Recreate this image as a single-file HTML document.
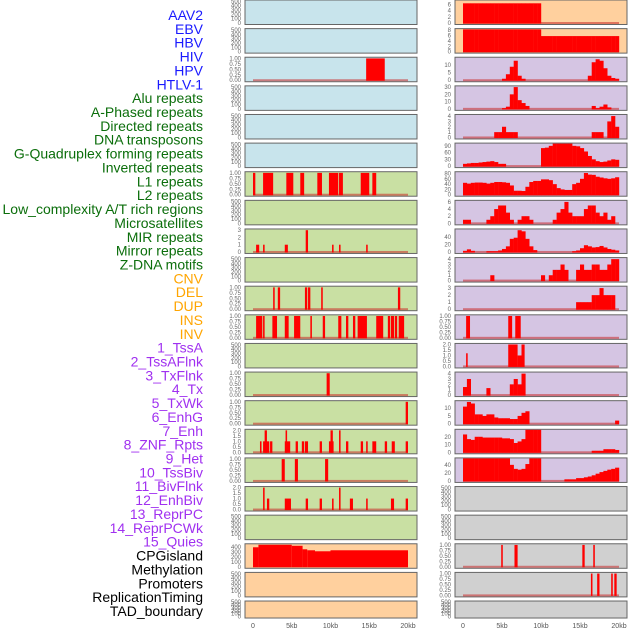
<!DOCTYPE html>
<html><head><meta charset="utf-8"><style>
html,body{margin:0;padding:0;background:#fff;}
svg{display:block;font-family:"Liberation Sans",sans-serif;}
</style></head><body>
<svg id="chart" width="630" height="630" viewBox="0 0 630 630" xmlns="http://www.w3.org/2000/svg">
<g id="labels" font-size="14" text-anchor="end"></g>
<g id="panels"></g>
<g id="xaxes" font-size="7" fill="#555" text-anchor="middle"></g>
</svg>
<script>
const NS='http://www.w3.org/2000/svg';
// ---- labels ----
const labelNames=['AAV2','EBV','HBV','HIV','HPV','HTLV-1','Alu repeats','A-Phased repeats','Directed repeats','DNA transposons','G-Quadruplex forming repeats','Inverted repeats','L1 repeats','L2 repeats','Low_complexity A/T rich regions','Microsatellites','MIR repeats','Mirror repeats','Z-DNA motifs','CNV','DEL','DUP','INS','INV','1_TssA','2_TssAFlnk','3_TxFlnk','4_Tx','5_TxWk','6_EnhG','7_Enh','8_ZNF_Rpts','9_Het','10_TssBiv','11_BivFlnk','12_EnhBiv','13_ReprPC','14_ReprPCWk','15_Quies','CPGisland','Methylation','Promoters','ReplicationTiming','TAD_boundary'];
const labelGroups=[6,13,5,15,5];
const groupColors=['#1a1aff','#0b6e0b','#ffa500','#a030f0','#000000'];

// ---- tick label sets ----
const t500=['0','100','200','300','400','500'];
const t1=['0.00','0.25','0.50','0.75','1.00'];
const t2=['0.0','0.5','1.0','1.5','2.0'];
const t3=['0','1','2','3'];
const t4=['0','1','2','3','4'];
const t6=['0','2','4','6'];
const t8=['0','2','4','6','8'];
const t10=['0','5','10'];
const t20=['0','10','20'];
const t30=['0','10','20','30'];
const t40=['0','20','40'];
const t80=['0','20','40','60','80'];
const t90=['0','30','60','90'];
const t400=['0','100','200','300','400'];

// ---- left column data (spans: [startKb, endKb, value]) ----
const hivSpans=[[14.6,17.0,1]];
const l7Spans=[[0,0.3,1],[1.3,2.6,1],[4.3,5.2,1],[6.1,6.6,1],[8.3,8.9,1],[9.8,11.0,1],[11.1,11.6,1],[13.9,15.0,1],[15.4,15.9,1]];
const l9Spans=[[0.4,0.8,1],[1.3,1.5,1],[4.1,4.5,1],[6.8,7.1,3],[10.2,10.4,1],[11.1,11.3,1],[14.6,14.8,1]];
const l11Spans=[[2.6,2.8,1],[3.2,3.5,1],[6.7,7.0,1],[7.1,7.4,1],[8.8,9.0,1],[18.7,19.0,1]];
const l12Spans=[[0.4,1.2,1],[1.3,1.5,1],[2.5,3.1,1],[4.1,4.6,1],[5.3,6.1,1],[7.4,7.6,1],[9.0,9.3,1],[11.0,11.4,1],[12.0,12.3,1],[12.9,13.2,1],[13.5,14.7,1],[15.9,16.8,1],[17.4,17.7,1],[17.8,18.2,1],[18.3,18.6,1],[18.8,19.5,1]];
const l14Spans=[[9.5,9.9,1]];
const l15Spans=[[19.7,20.0,1]];
const l16Spans=[[0.9,1.1,1],[1.3,2.1,1],[1.5,1.8,2],[2.2,2.5,1],[4.1,4.8,1],[4.2,4.4,2],[5.5,5.8,1],[6.3,6.6,1],[6.7,7.1,1],[8.6,8.9,1],[9.8,10.4,1],[10.0,10.3,2],[11.1,11.3,2],[12.0,12.3,1],[13.9,14.2,1],[14.6,14.8,1],[15.4,15.9,1],[17.0,17.3,1],[17.9,18.3,1],[19.7,20.0,1]];
const l17Spans=[[3.7,4.1,1],[5.4,5.8,1],[9.3,9.7,1]];
const l18Spans=[[1.3,1.5,2],[1.8,2.1,1],[4.1,4.9,1],[6.8,7.1,1],[8.6,8.9,1],[10.2,10.4,1],[11.1,11.3,2],[12.5,12.9,1],[14.6,14.8,1],[17.8,18.2,1],[19.7,20.0,1]];
const cpgSpans=[[0,0.7,390],[0.7,5.0,440],[5.0,6.4,420],[6.4,7.0,350],[7.0,8.0,330],[8.0,10.0,310],[10.0,20.0,330]];

// ---- right column data (40 bins of 0.5kb) ----
function z(n){return new Array(n).fill(0);}
const r1Bins=[6.3,6.3,6.3,6.3,6.3,6.3,6.3,6.3,6.3,6.3,6.3,6.3,6.3,6.3,6.3,6.3,6.3,6.3,6.3,6.3, ...z(20)];
const r2Bins=[8.3,8.3,8.3,8.3,8.3,8.3,8.3,8.3,8.3,8.3,8.3,8.3,8.3,8.3,8.3,8.3,8.3,8.3,8.3,8.3, 5.8,5.8,5.8,5.8,5.8,5.8,5.8,5.8,5.8,5.8,5.8,5.8,5.8,5.8,5.8,5.8,5.8,5.8,5.8,5.8];
const r3Bins=[0,0,0,0,0,0,0,0,0,0, 1,4,9,13,3,1,0,0,0,0, 0,0,0,0,0,0,0,0,0,0, 0,0,3,12,14,13,8,3,1.5,1];
const r4Bins=[0,0,0,0,0,0,0,0,0,0, 1,3,20,30,12,8,4,0,0,0, 0,0,0,0,0,0,0,0,0,0, 0,0,0,4,1,3,6,2,0,0];
const r5Bins=[0,0,0,0,0,0,0,0,1,1, 2,1,1,1,0,0,0,0,0,0, 0,0,0,0,0,0,0,0,0,0, 0,0,0,1,1,1,0,3,4,2];
const r6Bins=[10,12,14,14,16,18,20,22,18,10, 10,0,0,0,0,0,0,0,0,0, 80,82,90,100,100,100,100,100,90,88, 80,65,45,30,22,18,20,25,30,28];
const r7Bins=[45,42,45,46,46,45,42,45,48,48, 47,45,35,15,15,14,30,48,52,52, 58,58,55,40,25,20,18,18,40,45, 60,82,76,75,68,65,62,60,62,66];
const r8Bins=[1,1,0,0,0,0,1,2,4,5, 5,3,1,0,1,2,2,1,0,0, 0,0,0,1,3,4,6,3,2,2, 2,4,5,5,3,2,3,1,2,0];
const r9Bins=[3,7,3,0,0,0,2,2,2,4, 8,15,35,38,58,55,35,15,5,0, 0,0,0,0,0,0,0,0,2,4, 10,18,15,12,13,16,12,8,6,4];
const r10Bins=[0,0,0,0,0,0,0,1,0,0, 0,0,0,0,0,0,0,0,0,0, 1,0,1,2,2,3,2,0,0,2, 3,2,2,3,3,2,2,3,4,4];
const r11Bins=[...z(29),1,1,1,1,2,2,3,2,2,2,0];
const r12Spans=[[0.4,0.9,1],[5.8,6.3,1],[6.7,7.4,1]];
const r13Spans=[[0.4,0.6,1.2],[5.8,7.0,2],[7.0,7.5,1],[7.5,7.9,2]];
const r14Bins=[1.5,3,0,0,0,0,1.3,0,0,0, 0,0,2,3,2,4,...z(24)];
const r15Bins=[11,14,13,6,6,5,6,6,4,3.5, 3.5,3.5,3,3,5,7,8,0,0,0, ...z(19),2];
const r16Bins=[23,17,16,20,20,19,19,19,19,19, 18,18,17,12,14,17,29,29,29,29, 0,0,0,0,0,0,0,0,0,0, 0,0,0,2,2,2,4,4,4,3];
const r17Bins=[56,56,56,56,56,56,56,56,56,56, 56,56,40,30,28,30,42,56,56,56, 0,0,0,0,0,0,4,4,4,7, 7,9,11,14,18,22,25,28,30,33];
const r20Spans=[[4.9,5.1,1],[6.6,7.0,1],[15.3,15.6,1],[16.7,16.9,1]];
const r21Spans=[[16.4,16.6,1],[17.2,17.5,1],[19.0,19.2,1],[19.4,19.7,1]];

const BLUE='#c8e4ec',GREEN='#c9e0a3',PEACH='#ffd09e',PURPLE='#d5c5e3',GRAY='#d0d0d0';
const leftPanels=[
 {bg:BLUE,ticks:t500,ymax:520},{bg:BLUE,ticks:t500,ymax:520},{bg:BLUE,ticks:t1,ymax:1.03,spans:hivSpans},
 {bg:BLUE,ticks:t500,ymax:520},{bg:BLUE,ticks:t500,ymax:520},{bg:BLUE,ticks:t500,ymax:520},
 {bg:GREEN,ticks:t1,ymax:1.03,spans:l7Spans},{bg:GREEN,ticks:t500,ymax:520},{bg:GREEN,ticks:t3,ymax:3.1,spans:l9Spans},
 {bg:GREEN,ticks:t500,ymax:520},{bg:GREEN,ticks:t1,ymax:1.03,spans:l11Spans},{bg:GREEN,ticks:t1,ymax:1.03,spans:l12Spans},
 {bg:GREEN,ticks:t500,ymax:520},{bg:GREEN,ticks:t1,ymax:1.03,spans:l14Spans},{bg:GREEN,ticks:t1,ymax:1.03,spans:l15Spans},
 {bg:GREEN,ticks:t2,ymax:2.05,spans:l16Spans},{bg:GREEN,ticks:t1,ymax:1.03,spans:l17Spans},{bg:GREEN,ticks:t2,ymax:2.05,spans:l18Spans},
 {bg:GREEN,ticks:t500,ymax:520},{bg:PEACH,ticks:t400,ymax:450,spans:cpgSpans,nobase:true},{bg:PEACH,ticks:t500,ymax:520},{bg:PEACH,ticks:t500,ymax:520}
];
const rightPanels=[
 {bg:PEACH,ticks:t6,ymax:7.2,bins:r1Bins},{bg:PEACH,ticks:t8,ymax:8.4,bins:r2Bins},{bg:PURPLE,ticks:t10,ymax:15,bins:r3Bins},
 {bg:PURPLE,ticks:t30,ymax:31,bins:r4Bins},{bg:PURPLE,ticks:t4,ymax:4.2,bins:r5Bins},{bg:PURPLE,ticks:t90,ymax:100,bins:r6Bins},
 {bg:PURPLE,ticks:t80,ymax:85,bins:r7Bins},{bg:PURPLE,ticks:t6,ymax:6.3,bins:r8Bins},{bg:PURPLE,ticks:t40,ymax:60,bins:r9Bins},
 {bg:PURPLE,ticks:t4,ymax:4.2,bins:r10Bins},{bg:PURPLE,ticks:t3,ymax:3.2,bins:r11Bins},{bg:PURPLE,ticks:t1,ymax:1.03,spans:r12Spans},
 {bg:PURPLE,ticks:t2,ymax:2.05,spans:r13Spans},{bg:PURPLE,ticks:t4,ymax:4.2,bins:r14Bins},{bg:PURPLE,ticks:t10,ymax:14.5,bins:r15Bins},
 {bg:PURPLE,ticks:t20,ymax:29,bins:r16Bins},{bg:PURPLE,ticks:t40,ymax:56,bins:r17Bins},{bg:GRAY,ticks:t500,ymax:520},
 {bg:GRAY,ticks:t500,ymax:520},{bg:GRAY,ticks:t1,ymax:1.03,spans:r20Spans},{bg:GRAY,ticks:t1,ymax:1.03,spans:r21Spans},{bg:GRAY,ticks:t500,ymax:520}
];
const xTickLabels=['0','5kb','10kb','15kb','20kb'];
const xTickValues=[0,5,10,15,20];

function el(tag,attrs,parent){const e=document.createElementNS(NS,tag);for(const k in attrs)e.setAttribute(k,attrs[k]);parent.appendChild(e);return e;}

// labels
const lg=document.getElementById('labels');
let idx=0;
labelGroups.forEach((n,g)=>{for(let i=0;i<n;i++){
  const t=el('text',{x:203,y:(15+idx*13.86+5).toFixed(1),fill:groupColors[g]},lg);
  
  
  t.textContent=labelNames[idx];idx++;}});

const pg=document.getElementById('panels');
const cols=[{x0:245,x1:417,xs:kb=>253+kb*7.75,list:leftPanels,name:'left'},{x0:455,x1:627,xs:kb=>463+kb*7.8,list:rightPanels,name:'right'}];
cols.forEach(c=>{
  c.list.forEach((p,i)=>{
    const top=i*28.62, h=(i===21)?17:24.5, bot=top+h;
    const y0=bot-1.5;
    const ys=v=>y0-v/p.ymax*(y0-top-0.5);
    const g=el('g',{},pg);
    
    
    const r=el('rect',{x:c.x0,y:top,width:c.x1-c.x0,height:h,fill:p.bg,stroke:'#666','stroke-width':1},g);
    
    
    p.ticks.forEach(lbl=>{
      const v=parseFloat(lbl);
      const t=el('text',{x:c.x0-4,y:(ys(v)+2).toFixed(1),'font-size':6,fill:'#666','text-anchor':'end'},g);
      
      
      t.textContent=lbl;
    });
    const hasData=p.spans||p.bins;
    if(hasData&&!p.nobase){
      const b=el('rect',{x:c.xs(0),y:y0-1,width:c.xs(20)-c.xs(0),height:2,fill:'rgba(200,40,40,0.55)'},g);
      
      
    }
    if(p.spans){p.spans.forEach(s=>{
      const x=c.xs(s[0]),w=Math.max(1.2,c.xs(s[1])-x),yv=Math.max(top+0.5,ys(s[2]));
      const b=el('rect',{x:x,y:yv,width:w,height:y0+0.5-yv,fill:'#ff0000'},g);
      
      
    });}
    if(p.bins){p.bins.forEach((v,k)=>{
      if(!v)return;
      const x=c.xs(k*0.5),w=c.xs(k*0.5+0.5)-x,yv=Math.max(top+0.5,ys(v));
      const b=el('rect',{x:x,y:yv,width:w+0.2,height:y0+0.5-yv,fill:'#ff0000'},g);
      
      
    });}
  });
  const xa=document.getElementById('xaxes');
  xTickValues.forEach((v,k)=>{
    const t=el('text',{x:c.xs(v),y:628},xa);
    
    
    t.textContent=xTickLabels[k];
  });
});
</script>
</body></html>
